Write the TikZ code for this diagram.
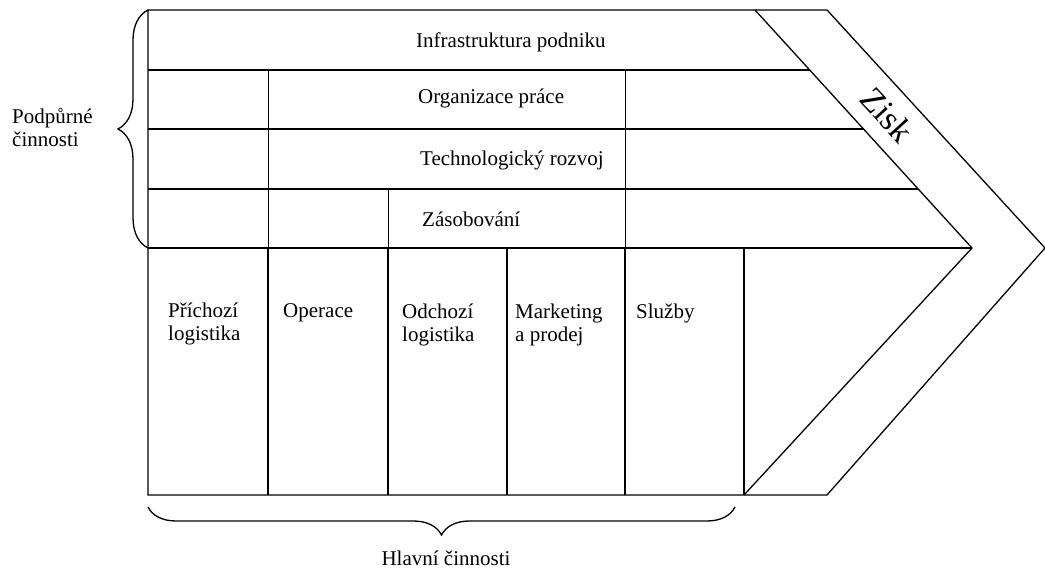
\documentclass[tikz,border=0pt]{standalone}
\usepackage{fontspec}
\setmainfont{Liberation Serif}
\usetikzlibrary{positioning,calc,decorations.pathreplacing}

\tikzset{
  txt/.style={font=\fontsize{21}{23}\selectfont, inner sep=0pt},
  rowlbl/.style={txt, anchor=west},
  collbl/.style={txt, anchor=north west, align=left},
  frame/.style={line width=1.3pt},
  thin/.style={line width=0.7pt},
  bracket/.style={line width=1.3pt, decorate, decoration={brace, amplitude=#1}}
}

\begin{document}
\begin{tikzpicture}[x=1pt, y=-1pt]
\useasboundingbox (0,0) rectangle (1045,572);

\draw[frame] (148,10) -- (827,10) -- (1045,248) -- (827,495) -- (148,495) -- cycle;
\draw[frame] (755,10) -- (972,248) -- (744,495);
\foreach \y/\x in {70/809.7, 129/863.5, 189/918.2, 248/972}
  \draw[line width=1.6pt] (148,\y) -- (\x,\y);
\foreach \x in {268,625}
  \draw[thin] (\x,70) -- (\x,248);
\draw[thin] (388,189) -- (388,248);
\foreach \x in {268,388,507,625,744}
  \draw[line width=1.2pt] (\x,248) -- (\x,495);

\node[rowlbl] (infra) at (416,42) {Infrastruktura podniku};
\node[rowlbl] (org) at (418,98) {Organizace práce};
\node[rowlbl] (tech) at (420,160) {Technologický rozvoj};
\node[rowlbl] (zas) at (422,219) {Zásobování};

\node[collbl] (prich) at (168,296) {\rule{0pt}{1em}Příchozí\\logistika};
\node[collbl] (oper) at (283,296) {\rule{0pt}{1em}Operace};
\node[collbl] (odch) at (402,297) {\rule{0pt}{1em}Odchozí\\logistika};
\node[collbl] (mark) at (515,297) {\rule{0pt}{1em}Marketing\\a prodej};
\node[collbl] (sluz) at (636,297) {\rule{0pt}{1em}Služby};

\node[txt, rotate=-47.6, font=\fontsize{34}{36}\selectfont] (zisk) at (887,115) {Zisk};

\draw[bracket=30pt] (148,248) -- (148,10);
\node[txt, anchor=west, align=left] (podp) at (12,128) {Podpůrné\\činnosti};

\draw[bracket=28pt] (735,507) -- (148,507);
\node[txt] (hlav) at (446,558) {Hlavní činnosti};
\end{tikzpicture}
\end{document}
